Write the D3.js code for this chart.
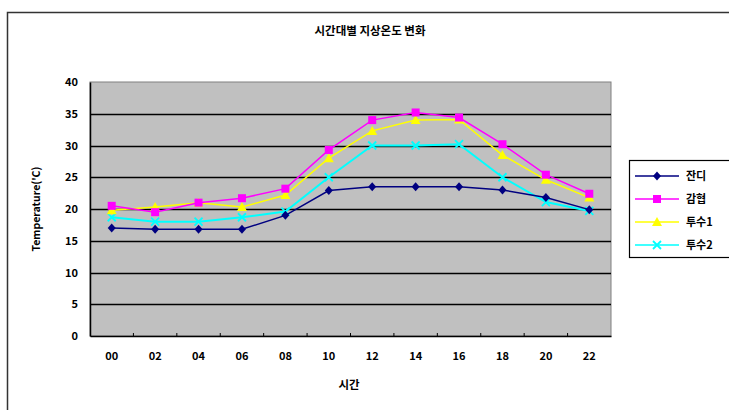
<!DOCTYPE html>
<html>
<head>
<meta charset="utf-8">
<script src="https://cdn.jsdelivr.net/npm/d3@7"></script>
<style>
  html, body { margin: 0; padding: 0; background: #fff; }
  svg { display: block; }
  text { font-family: "Noto Sans CJK KR", "DejaVu Sans", sans-serif; fill: #000; }
</style>
</head>
<body>
<script>
// Hour-of-day categories and ground temperature per surface type
const hours = ["00", "02", "04", "06", "08", "10", "12", "14", "16", "18", "20", "22"];
const seriesNames = ["잔디", "감협", "투수1", "투수2"];
const jandi = [17.0, 16.8, 16.8, 16.8, 19.0, 22.9, 23.5, 23.5, 23.5, 23.0, 21.8, 19.9];
const gamhyeop = [20.5, 19.5, 21.0, 21.7, 23.2, 29.3, 34.0, 35.2, 34.4, 30.2, 25.4, 22.4];
const tusu1 = [19.8, 20.3, 21.0, 20.3, 22.2, 28.0, 32.3, 34.0, 34.1, 28.5, 24.6, 21.8];
const tusu2 = [18.7, 18.0, 18.0, 18.7, 19.6, 25.0, 30.0, 30.0, 30.2, 25.0, 21.1, 19.7];
const yTicks = [0, 5, 10, 15, 20, 25, 30, 35, 40];
const seriesColors = ["#000080", "#ff00ff", "#ffff00", "#00ffff"];

const W = 729, H = 410;
const svg = d3.select("body").append("svg").attr("width", W).attr("height", H);

// Outer chart frame
svg.append("rect").attr("x", 7.5).attr("y", 12.5).attr("width", 740).attr("height", 420)
  .attr("fill", "#fff").attr("stroke", "#333").attr("stroke-width", 1.5);

// Title
svg.append("text").attr("x", 370).attr("y", 35).attr("text-anchor", "middle")
  .attr("font-size", 11.5).attr("font-weight", "bold").text("시간대별 지상온도 변화");

const plot = { left: 90, right: 611, top: 82, bottom: 336 };
const x = d3.scaleBand().domain(hours).range([plot.left, plot.right]);
const y = d3.scaleLinear().domain([0, 40]).range([plot.bottom, plot.top]);

// Plot background
svg.append("rect").attr("x", plot.left).attr("y", plot.top)
  .attr("width", plot.right - plot.left).attr("height", plot.bottom - plot.top)
  .attr("fill", "#c0c0c0").attr("stroke", "#808080").attr("stroke-width", 1);

// Horizontal gridlines
svg.append("g").selectAll("line").data(yTicks.filter(t => t > 0 && t < 40)).join("line")
  .attr("x1", plot.left).attr("x2", plot.right)
  .attr("y1", d => Math.round(y(d)) + 0.5).attr("y2", d => Math.round(y(d)) + 0.5)
  .attr("stroke", "#000").attr("stroke-width", 1.3);

// Y axis
const yAxis = svg.append("g").attr("transform", `translate(${plot.left},0)`)
  .call(d3.axisLeft(y).tickValues(yTicks).tickSize(0).tickPadding(12));
yAxis.select(".domain").attr("stroke", "#000").attr("stroke-width", 1.5);
yAxis.selectAll("text").attr("font-size", 11).attr("font-weight", "bold")
  .style("font-family", "'Noto Sans CJK KR', sans-serif");

// X axis with ticks at category boundaries
const xAxis = svg.append("g").attr("transform", `translate(0,${plot.bottom})`)
  .call(d3.axisBottom(x).tickSize(0).tickPadding(16));
xAxis.select(".domain").attr("stroke", "#000").attr("stroke-width", 1.5);
xAxis.selectAll("text").attr("font-size", 11).attr("font-weight", "bold")
  .style("font-family", "'Noto Sans CJK KR', sans-serif");
svg.append("g").selectAll("line").data(hours.slice(1)).join("line")
  .attr("x1", d => x(d)).attr("x2", d => x(d))
  .attr("y1", plot.bottom).attr("y2", plot.bottom - 3)
  .attr("stroke", "#000");

// Axis titles
svg.append("text").attr("x", 349).attr("y", 389).attr("text-anchor", "middle")
  .attr("font-size", 11.5).attr("font-weight", "bold").text("시간");
svg.append("text").attr("transform", "translate(40,209) rotate(-90)")
  .attr("text-anchor", "middle").attr("font-size", 10.5).attr("font-weight", "bold")
  .text("Temperature('C)");

// Marker shapes
function drawMarker(g, i, cx, cy) {
  const c = seriesColors[i];
  if (i === 0) {
    g.append("path").attr("d", `M${cx},${cy - 4.5}L${cx + 4},${cy}L${cx},${cy + 4.5}L${cx - 4},${cy}Z`).attr("fill", c);
  } else if (i === 1) {
    g.append("rect").attr("x", cx - 4).attr("y", cy - 4).attr("width", 8).attr("height", 8).attr("fill", c);
  } else if (i === 2) {
    g.append("path").attr("d", `M${cx},${cy - 5}L${cx + 5},${cy + 4}L${cx - 5},${cy + 4}Z`).attr("fill", c);
  } else {
    g.append("path").attr("d", `M${cx - 4},${cy - 4}L${cx + 4},${cy + 4}M${cx + 4},${cy - 4}L${cx - 4},${cy + 4}`)
      .attr("stroke", c).attr("stroke-width", 1.8).attr("fill", "none");
  }
}

const allSeries = [jandi, gamhyeop, tusu1, tusu2];
const line = d3.line().x((d, i) => x(hours[i]) + x.bandwidth() / 2).y(d => y(d));
const drawOrder = [3, 2, 1, 0];
drawOrder.forEach(si => {
  const g = svg.append("g");
  g.append("path").datum(allSeries[si]).attr("d", line)
    .attr("fill", "none").attr("stroke", seriesColors[si])
    .attr("stroke-width", si === 3 ? 2 : 1.5);
  allSeries[si].forEach((v, i) => drawMarker(g, si, x(hours[i]) + x.bandwidth() / 2, y(v)));
});

// Legend
const lg = svg.append("g");
lg.append("rect").attr("x", 629.5).attr("y", 160.5).attr("width", 120).attr("height", 97)
  .attr("fill", "#fff").attr("stroke", "#000").attr("stroke-width", 1.2);
const legendY = [176, 199, 222, 245];
seriesNames.forEach((name, i) => {
  lg.append("line").attr("x1", 635).attr("x2", 679).attr("y1", legendY[i]).attr("y2", legendY[i])
    .attr("stroke", seriesColors[i]).attr("stroke-width", 1.5);
  drawMarker(lg, i, 657, legendY[i]);
  lg.append("text").attr("x", 686).attr("y", legendY[i] + 4).attr("font-size", 11)
    .attr("font-weight", "bold").text(name);
});
</script>
</body>
</html>
